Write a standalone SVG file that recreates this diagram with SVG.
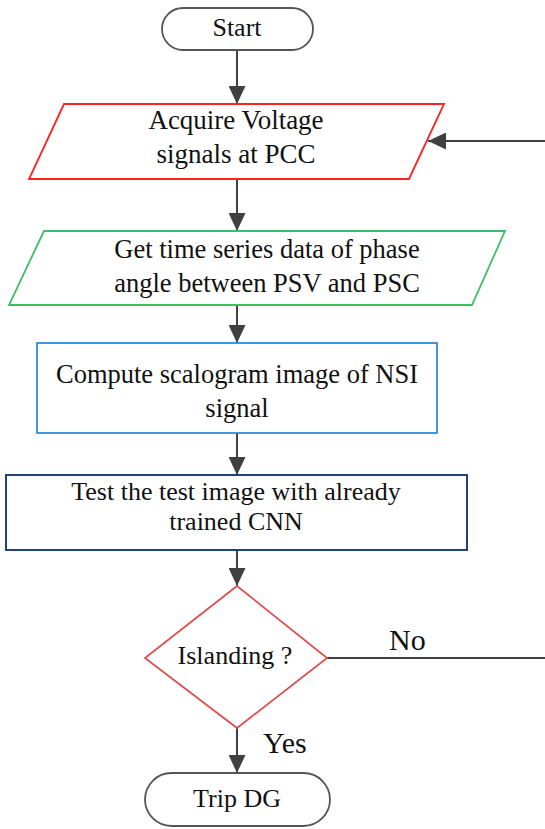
<svg xmlns="http://www.w3.org/2000/svg" width="545" height="829" viewBox="0 0 545 829">
<style>
.c{stroke:#404040;stroke-width:2;fill:none}
.pill{fill:#fff;stroke:#555;stroke-width:1.8}
</style>
<defs>
<marker id="ah" markerUnits="userSpaceOnUse" markerWidth="18" markerHeight="17" viewBox="0 0 18 17" refX="18" refY="8.5" orient="auto">
<path d="M0,0 L18,8.5 L0,17 Z" fill="#404040"/>
</marker>
</defs>
<rect width="545" height="829" fill="#fff"/>
<g id="connectors">
<line class="c" x1="237" y1="50" x2="237" y2="104" marker-end="url(#ah)"/>
<line class="c" x1="237" y1="179" x2="237" y2="231" marker-end="url(#ah)"/>
<line class="c" x1="237" y1="305" x2="237" y2="343" marker-end="url(#ah)"/>
<line class="c" x1="237" y1="433" x2="237" y2="475" marker-end="url(#ah)"/>
<line class="c" x1="237" y1="550" x2="237" y2="586" marker-end="url(#ah)"/>
<line class="c" x1="237" y1="728" x2="237" y2="773" marker-end="url(#ah)"/>
<line class="c" x1="327" y1="658" x2="545" y2="658"/>
<line class="c" x1="545" y1="141" x2="428" y2="141" marker-end="url(#ah)"/>
<text x="389" y="650" style="font-family:'Liberation Serif';font-size:30px;fill:#111">No</text>
<text x="263" y="753" style="font-family:'Liberation Serif';font-size:30px;fill:#111">Yes</text>
</g>
<g id="start">
<rect class="pill" x="162" y="8" width="151" height="42" rx="21"/>
<text x="237" y="36" style="font-family:'Liberation Serif';font-size:26px;fill:#111;text-anchor:middle">Start</text>
</g>
<g id="acquire">
<polygon points="64,104 444,104 409,179 29,179" fill="#fff" stroke="#ff2020" stroke-width="1.8"/>
<text x="236" y="129" style="font-family:'Liberation Serif';font-size:27px;fill:#111;text-anchor:middle">Acquire Voltage</text>
<text x="236" y="163" style="font-family:'Liberation Serif';font-size:27px;fill:#111;text-anchor:middle">signals at PCC</text>
</g>
<g id="timeseries">
<polygon points="44,231 505,231 472,305 9,305" fill="#fff" stroke="#3cbf66" stroke-width="1.8"/>
<text x="267" y="258" style="font-family:'Liberation Serif';font-size:26.5px;fill:#111;text-anchor:middle">Get time series data of phase</text>
<text x="267" y="292" style="font-family:'Liberation Serif';font-size:26.5px;fill:#111;text-anchor:middle">angle between PSV and PSC</text>
</g>
<g id="scalogram">
<rect x="37" y="343" width="400" height="90" fill="#fff" stroke="#2a8ddc" stroke-width="1.8"/>
<text x="237" y="383" style="font-family:'Liberation Serif';font-size:26.5px;fill:#111;text-anchor:middle">Compute scalogram image of NSI</text>
<text x="237" y="417" style="font-family:'Liberation Serif';font-size:26.5px;fill:#111;text-anchor:middle">signal</text>
</g>
<g id="test">
<rect x="6" y="475" width="461" height="75" fill="#fff" stroke="#23407e" stroke-width="2"/>
<text x="236" y="500" style="font-family:'Liberation Serif';font-size:26px;fill:#111;text-anchor:middle">Test the test image with already</text>
<text x="236" y="530" style="font-family:'Liberation Serif';font-size:26px;fill:#111;text-anchor:middle">trained CNN</text>
</g>
<g id="islanding">
<polygon points="237,586 327,658 237,728 145,658" fill="#fff" stroke="#dc5252" stroke-width="1.8"/>
<text x="235" y="664" style="font-family:'Liberation Serif';font-size:26px;fill:#111;text-anchor:middle">Islanding ?</text>
</g>
<g id="trip">
<rect class="pill" x="145" y="773" width="185" height="53" rx="26.5"/>
<text x="237" y="807" style="font-family:'Liberation Serif';font-size:26px;fill:#111;text-anchor:middle">Trip DG</text>
</g>
</svg>
